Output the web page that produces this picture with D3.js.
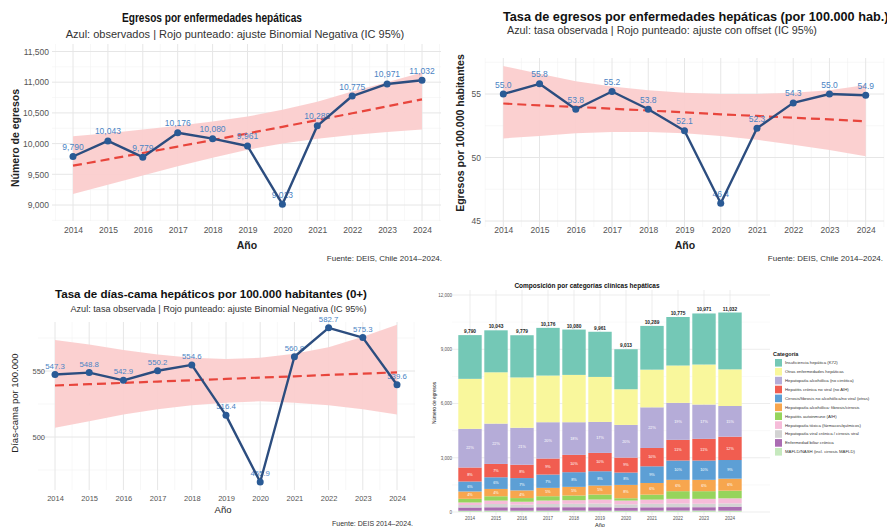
<!DOCTYPE html>
<html><head><meta charset="utf-8">
<script src="https://cdn.jsdelivr.net/npm/d3@7"></script>
<style>
body{margin:0;background:#fff}
svg{display:block}
text{font-family:"Liberation Sans",Arial,Helvetica,sans-serif}
</style>
</head><body>
<svg id="c" width="887" height="527"></svg>
<script>
// ---------------- DATA ----------------
const years = [2014,2015,2016,2017,2018,2019,2020,2021,2022,2023,2024];

// Panel 1: egresos
const egresos    = [9790,10043,9779,10176,10080,9961,9013,10289,10775,10971,11032];
const egresosFit = [9640,9743,9847,9952,10058,10165,10273,10383,10494,10606,10720];
const egresosLo  = [9180,9330,9480,9630,9770,9900,10000,10080,10140,10190,10230];
const egresosHi  = [10120,10170,10230,10290,10360,10440,10550,10680,10850,11000,11160];
const egresosTicks = [9000,9500,10000,10500,11000,11500];

// Panel 2: tasa de egresos por 100.000
const tasa    = [55.0,55.8,53.8,55.2,53.8,52.1,46.4,52.3,54.3,55.0,54.9];
const tasaFit = [54.25,54.1,53.98,53.84,53.7,53.55,53.4,53.27,53.13,53.0,52.85];
const tasaLo  = [51.5,51.7,51.9,52.0,52.0,51.9,51.7,51.4,51.0,50.6,50.1];
const tasaHi  = [57.2,56.6,56.0,55.6,55.3,55.1,55.0,55.0,55.1,55.3,55.7];
const tasaTicks = [45,50,55];

// Panel 3: tasa de días-cama por 100.000
const diasCama = [547.3,548.8,542.9,550.2,554.6,516.4,465.9,560.8,582.7,575.3,539.6];
const diasFit  = [539,540,541,542,543,544,545,546,547,548,549];
const diasLo   = [507,512,517,521,524,526,527,526,524,521,517];
const diasHi   = [573.5,570,566,562.5,560,559,560,563,568,576,585];
const diasTicks = [500,550];

// Panel 4: composición por categorías
const categorias = [
  "Insuficiencia hepática (K72)",
  "Otras enfermedades hepáticas",
  "Hepatopatía alcohólica (no cirrótica)",
  "Hepatitis crónica no viral (no AIH)",
  "Cirrosis/fibrosis no alcohólica/no viral (otras)",
  "Hepatopatía alcohólica: fibrosis/cirrosis",
  "Hepatitis autoinmune (AIH)",
  "Hepatopatía tóxica (fármacos/químicos)",
  "Hepatopatía viral crónica / cirrosis viral",
  "Enfermedad biliar crónica",
  "MAFLD/NASH (incl. cirrosis MAFLD)"
];
const insuficiencia = [2418,2321,2333,2637,2506,2497,2213,2419,2683,2824,3144];
const otras         = [2765,2838,2783,2580,2617,2488,1972,2083,2064,2212,2027];
const alcoholica    = [2138,2230,2046,2009,1806,1714,1806,2248,2046,1898,1696];
const cronicaNoViral= [774,737,737,885,958,1014,829,1014,1143,1198,1290];
const cirrosisOtras = [553,645,682,737,811,792,682,922,1069,1069,1032];
const alcFibrosis   = [405,405,424,461,479,498,737,645,627,627,663];
const autoinmune    = [203,240,203,240,258,276,129,276,424,424,424];
const toxica        = [140,190,160,190,200,220,210,230,260,270,280];
const viral         = [136,179,153,179,187,204,177,194,201,191,181];
const biliar        = [180,186,182,190,188,192,176,184,188,186,221];
const mafld         = [70,76,72,74,78,72,70,76,78,80,74];
const totales       = [9790,10043,9779,10176,10080,9961,9013,10289,10775,10971,11032];
const barTicks = [0,3000,6000,9000,12000];

const catColors = ["#74c8b6","#f9f79c","#b5acd8","#f15d50","#5d9fd5","#f7a64e","#96d45c","#f6bcd9","#d3d3d3","#aa6cb2","#c6e9be"];

// ---------------- DRAW ----------------
const svg = d3.select("#c");
const fmtComma = d3.format(",");

function linePanel(o) {
  const g = svg.append("g");
  const x = d3.scaleLinear().domain([years[0], years[years.length-1]]).range(o.xr);
  const y = d3.scaleLinear().domain(o.yd).range(o.yr);
  const [px0, px1] = o.px, [py0, py1] = o.py;
  const step = o.yTicks[1] - o.yTicks[0];
  const yMinor = [];
  for (let i = 0; i < o.yTicks.length + 1; i++) {
    const v = o.yTicks[0] - step/2 + i*step;
    if (y(v) > py0 && y(v) < py1) yMinor.push(v);
  }
  const xMinor = years.slice(0,-1).map(d => d + 0.5).concat([years[0]-0.5, years[years.length-1]+0.5]).filter(d => x(d) > px0 && x(d) < px1);
  // grid
  g.selectAll(".ym").data(yMinor).join("line")
    .attr("x1", px0).attr("x2", px1).attr("y1", d => y(d)).attr("y2", d => y(d))
    .attr("stroke", "#f2f2f2").attr("stroke-width", 0.6);
  g.selectAll(".xm").data(xMinor).join("line")
    .attr("y1", py0).attr("y2", py1).attr("x1", d => x(d)).attr("x2", d => x(d))
    .attr("stroke", "#f2f2f2").attr("stroke-width", 0.6);
  g.selectAll(".yM").data(o.yTicks).join("line")
    .attr("x1", px0).attr("x2", px1).attr("y1", d => y(d)).attr("y2", d => y(d))
    .attr("stroke", "#e6e6e6").attr("stroke-width", 1);
  g.selectAll(".xM").data(years).join("line")
    .attr("y1", py0).attr("y2", py1).attr("x1", d => x(d)).attr("x2", d => x(d))
    .attr("stroke", "#e6e6e6").attr("stroke-width", 1);

  // axes
  const ya = g.append("g").attr("transform", `translate(${o.yLabX},0)`)
    .call(d3.axisLeft(y).tickValues(o.yTicks).tickSize(0).tickPadding(0).tickFormat(o.fmt));
  ya.select(".domain").remove();
  ya.selectAll("text").attr("fill", "#555").style("font-size", o.tickFs + "px");
  const xa = g.append("g").attr("transform", `translate(0,${o.xLabY})`)
    .call(d3.axisBottom(x).tickValues(years).tickSize(0).tickPadding(0).tickFormat(d3.format("d")));
  xa.select(".domain").remove();
  xa.selectAll("text").attr("fill", "#555").style("font-size", o.tickFs + "px");

  const idx = d3.range(years.length);
  // ribbon
  g.append("path").datum(idx)
    .attr("d", d3.area().x(i => x(years[i])).y0(i => y(o.lo[i])).y1(i => y(o.hi[i])))
    .attr("fill", "#fbcdcd").attr("opacity", 0.95);
  // fit
  g.append("path").datum(idx)
    .attr("d", d3.line().x(i => x(years[i])).y(i => y(o.fit[i])))
    .attr("fill", "none").attr("stroke", "#e8453c").attr("stroke-width", 2.2)
    .attr("stroke-dasharray", "9,5");
  // value labels
  g.selectAll(".vl").data(idx).join("text")
    .attr("x", i => x(years[i])).attr("y", i => y(o.obs[i]) - o.labOff)
    .attr("text-anchor", "middle").attr("fill", "#4b84c4")
    .style("font-size", o.labFs + "px")
    .text(i => o.labFmt(o.obs[i]));
  // observed
  g.append("path").datum(idx)
    .attr("d", d3.line().x(i => x(years[i])).y(i => y(o.obs[i])))
    .attr("fill", "none").attr("stroke", "#2c4d7f").attr("stroke-width", 2.4)
    .attr("stroke-linejoin", "round");
  g.selectAll(".pt").data(idx).join("circle")
    .attr("cx", i => x(years[i])).attr("cy", i => y(o.obs[i])).attr("r", 3.5)
    .attr("fill", "#2a5a95");

  // texts
  const t = (txt, xx, yy, fs, opts = {}) => {
    const el = g.append("text").attr("x", xx).attr("y", yy)
      .attr("text-anchor", opts.anchor || "middle").attr("fill", opts.fill || "#222")
      .attr("font-weight", opts.bold ? "bold" : "normal")
      .attr("transform", opts.rot ? `rotate(-90,${xx},${yy})` : null)
      .style("font-size", fs + "px").text(txt);
    if (opts.len) el.attr("textLength", opts.len).attr("lengthAdjust", "spacingAndGlyphs");
    return el;
  };
  t(o.title, o.titleX, o.titleY, o.titleFs, {bold: true, anchor: o.titleAnchor || "middle", fill: "#111", len: o.titleLen});
  t(o.subtitle, o.subX, o.subY, o.subFs, {anchor: o.titleAnchor || "middle", fill: "#333"});
  t("Año", o.xTitleX, o.xTitleY, o.axFs, {bold: o.axBold, fill: "#222"});
  t(o.yTitle, o.yTitleX, o.yTitleY, o.axFs, {bold: o.axBold, rot: true, fill: "#222"});
  t(o.caption, o.capX, o.capY, o.capFs, {anchor: "end", fill: "#333"});
}

// Panel 1
linePanel({
  xr: [73, 422], yd: [9000, 11500], yr: [205, 51.5], px: [52, 441], py: [44, 221],
  yTicks: egresosTicks, fmt: fmtComma, tickFs: 8.5, yLabX: 49, xLabY: 227,
  obs: egresos, fit: egresosFit, lo: egresosLo, hi: egresosHi,
  labFmt: fmtComma, labFs: 8.5, labOff: 6.5,
  title: "Egresos por enfermedades hepáticas", titleX: 212, titleY: 21.5, titleFs: 12.5, titleLen: 180,
  subtitle: "Azul: observados | Rojo punteado: ajuste Binomial Negativa (IC 95%)", subX: 235, subY: 37.5, subFs: 11,
  xTitleX: 247, xTitleY: 249, yTitle: "Número de egresos", yTitleX: 19, yTitleY: 138, axFs: 10.5, axBold: true,
  caption: "Fuente: DEIS, Chile 2014–2024.", capX: 442, capY: 261, capFs: 8
});

// Panel 2
linePanel({
  xr: [503.3, 865.7], yd: [45, 55], yr: [221, 94], px: [485, 884], py: [58, 227],
  yTicks: tasaTicks, fmt: d3.format("d"), tickFs: 8.5, yLabX: 481, xLabY: 227,
  obs: tasa, fit: tasaFit, lo: tasaLo, hi: tasaHi,
  labFmt: d3.format(".1f"), labFs: 8.5, labOff: 6.5,
  title: "Tasa de egresos por enfermedades hepáticas (por 100.000 hab.)", titleX: 503, titleY: 20.5, titleFs: 12.7, titleAnchor: "start",
  subtitle: "Azul: tasa observada | Rojo punteado: ajuste con offset (IC 95%)", subX: 507, subY: 34, subFs: 10.8,
  xTitleX: 685, xTitleY: 249, yTitle: "Egresos por 100.000 habitantes", yTitleX: 464, yTitleY: 133, axFs: 10.5, axBold: true,
  caption: "Fuente: DEIS, Chile 2014–2024.", capX: 883, capY: 261, capFs: 8
});

// Panel 3
linePanel({
  xr: [55, 397], yd: [500, 550], yr: [437, 371], px: [38, 415], py: [322, 490],
  yTicks: diasTicks, fmt: d3.format("d"), tickFs: 7.5, yLabX: 45, xLabY: 496,
  obs: diasCama, fit: diasFit, lo: diasLo, hi: diasHi,
  labFmt: d3.format(".1f"), labFs: 7.8, labOff: 6,
  title: "Tasa de días-cama hepáticos por 100.000 habitantes (0+)", titleX: 211, titleY: 297.5, titleFs: 11.6,
  subtitle: "Azul: tasa observada | Rojo punteado: ajuste Binomial Negativa (IC 95%)", subX: 218.5, subY: 312, subFs: 9.15,
  xTitleX: 223, xTitleY: 513, yTitle: "Días-cama por 100.000", yTitleX: 18, yTitleY: 403, axFs: 9.5, axBold: false,
  caption: "Fuente: DEIS 2014–2024.", capX: 413, capY: 526, capFs: 7
});

// Panel 4: stacked bars
(function () {
  const g = svg.append("g");
  const series = [insuficiencia, otras, alcoholica, cronicaNoViral, cirrosisOtras, alcFibrosis, autoinmune, toxica, viral, biliar, mafld];
  const table = years.map((yr, i) => {
    const row = {year: yr};
    categorias.forEach((c, k) => row[c] = series[k][i]);
    return row;
  });
  const x = d3.scaleBand().domain(years).range([457, 743]).paddingInner(0.1).paddingOuter(0.05);
  const y = d3.scaleLinear().domain([0, 12000]).range([512, 295]);
  const px0 = 452, px1 = 770, py0 = 290, py1 = 515;
  const color = d3.scaleOrdinal().domain(categorias).range(catColors);

  const minor = barTicks.slice(0, -1).map((d, i) => (d + barTicks[i+1]) / 2);
  g.selectAll(".ym").data(minor).join("line")
    .attr("x1", px0).attr("x2", px1).attr("y1", d => y(d)).attr("y2", d => y(d))
    .attr("stroke", "#f2f2f2").attr("stroke-width", 0.5);
  g.selectAll(".yM").data(barTicks).join("line")
    .attr("x1", px0).attr("x2", px1).attr("y1", d => y(d)).attr("y2", d => y(d))
    .attr("stroke", "#e8e8e8").attr("stroke-width", 0.8);
  g.selectAll(".xM").data(years).join("line")
    .attr("y1", py0).attr("y2", py1).attr("x1", d => x(d) + x.bandwidth()/2).attr("x2", d => x(d) + x.bandwidth()/2)
    .attr("stroke", "#e8e8e8").attr("stroke-width", 0.8);

  // stack: first category on top
  const stack = d3.stack().keys(categorias.slice().reverse())(table);
  const layers = g.selectAll(".layer").data(stack).join("g").attr("fill", d => color(d.key));
  layers.selectAll("rect").data(d => d).join("rect")
    .attr("x", d => x(d.data.year)).attr("width", x.bandwidth())
    .attr("y", d => y(d[1])).attr("height", d => y(d[0]) - y(d[1]));

  // percentage labels
  const labelled = [categorias[2], categorias[3], categorias[4], categorias[5]];
  stack.filter(s => labelled.includes(s.key)).forEach(s => {
    g.selectAll(null).data(s).join("text")
      .attr("x", d => x(d.data.year) + x.bandwidth()/2)
      .attr("y", d => (y(d[0]) + y(d[1])) / 2 + 1.3)
      .attr("text-anchor", "middle").attr("fill", "#fff")
      .style("font-size", "3.8px")
      .text((d, i) => Math.round((d[1] - d[0]) / totales[i] * 100) + "%");
  });

  // totals
  g.selectAll(".tot").data(years).join("text")
    .attr("x", d => x(d) + x.bandwidth()/2)
    .attr("y", (d, i) => y(d3.sum(series, s => s[i])) - 2)
    .attr("text-anchor", "middle").attr("font-weight", "bold").attr("fill", "#222")
    .style("font-size", "4.8px")
    .text((d, i) => fmtComma(totales[i]));

  // axes
  const ya = g.append("g").attr("transform", "translate(452,0)")
    .call(d3.axisLeft(y).tickValues(barTicks).tickSize(0).tickPadding(0).tickFormat(fmtComma));
  ya.select(".domain").remove();
  ya.selectAll("text").attr("fill", "#555").style("font-size", "4.5px");
  const xa = g.append("g").attr("transform", "translate(0,517)")
    .call(d3.axisBottom(x).tickSize(0).tickPadding(0).tickFormat(d3.format("d")));
  xa.select(".domain").remove();
  xa.selectAll("text").attr("fill", "#555").style("font-size", "4.5px");

  g.append("text").attr("x", 587).attr("y", 288).attr("text-anchor", "middle")
    .attr("font-weight", "bold").attr("fill", "#111").style("font-size", "6.5px")
    .text("Composición por categorías clínicas hepáticas");
  g.append("text").attr("x", 600).attr("y", 527).attr("text-anchor", "middle")
    .attr("fill", "#222").style("font-size", "5.5px").text("Año");
  g.append("text").attr("x", 436).attr("y", 403).attr("text-anchor", "middle")
    .attr("transform", "rotate(-90,436,403)")
    .attr("fill", "#222").style("font-size", "4.8px").text("Número de egresos");

  // legend
  const lg = g.append("g");
  lg.append("text").attr("x", 773).attr("y", 355.5).attr("font-weight", "bold")
    .attr("fill", "#222").style("font-size", "5.5px").text("Categoría");
  const items = lg.selectAll(".li").data(categorias).join("g")
    .attr("transform", (d, i) => `translate(775,${359 + i * 8.9})`);
  items.append("rect").attr("width", 7).attr("height", 7.6).attr("fill", d => color(d));
  items.append("text").attr("x", 10).attr("y", 5.3).attr("fill", "#333")
    .style("font-size", "4.3px").text(d => d);
})();
</script>
</body></html>
